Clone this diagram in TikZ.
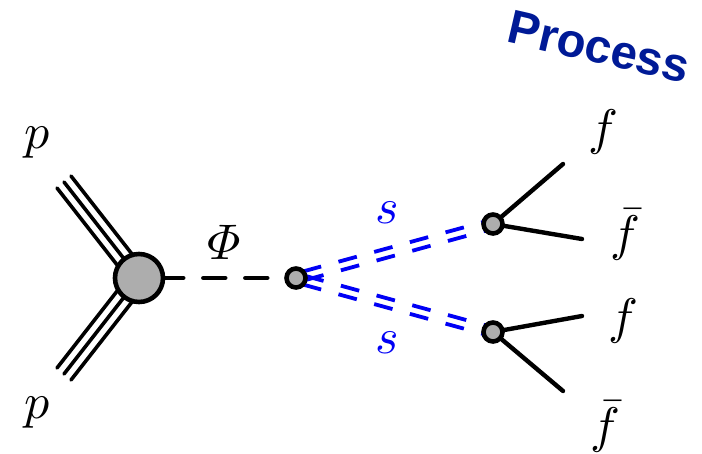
\documentclass[tikz,border=0pt]{standalone}
\usepackage{xcolor}
\usepackage{amsmath}
\usepackage{fontspec}
\usetikzlibrary{backgrounds}
\newfontfamily\titlefont{Liberation Sans}
\definecolor{Navy}{HTML}{001A96}
\definecolor{Scalar}{HTML}{0000F5}
\definecolor{Blob}{HTML}{ADADAD}
\begin{document}
\begin{tikzpicture}[x=1pt,y=-1pt,
        v/.style={circle,draw=black,fill=Blob,line width=4.6pt,inner sep=0pt,minimum size=19pt},
        blob/.style={v,minimum size=48pt},
        t/.style={font=\normalsize,scale=5,inner sep=0pt},
        l/.style={line width=4.4pt,line cap=round},
        beam/.style={line width=3.6pt,line cap=round},
        phi/.style={l,dash pattern=on 22pt off 20pt,dash phase=4pt},
        sc/.style={draw=Scalar,line width=3.8pt,dash pattern=on 19pt off 18pt,dash phase=28.7pt}]
        \useasboundingbox (0,0) rectangle (702,453);
        \node[blob] (h) at (139,278) {};
        \node[v] (d) at (296,278) {};
        \node[v] (u1) at (493,224) {};
        \node[v] (u2) at (493,332) {};
        \coordinate (p1) at (64,182);
        \coordinate (p2) at (64,374);
        \coordinate (f1) at (563,164);
        \coordinate (f2) at (582,239);
        \coordinate (f3) at (582,316);
        \coordinate (f4) at (563,391);
        \node[t] (lp1) at (37,143) {$p$};
        \node[t] (lp2) at (37,413) {$p$};
        \node[t] (lphi) at (224,242) {$\varPhi$};
        \node[t,text=Scalar] (ls1) at (387,213) {$s$};
        \node[t,text=Scalar] (ls2) at (387,343) {$s$};
        \node[t] (lf1) at (603,132) {$f$};
        \node[t] (lf2) at (625,235) {$\bar{f}$};
        \node[t] (lf3) at (623,321) {$f$};
        \node[t] (lf4) at (605,427) {$\bar{f}$};
        \node[font=\fontsize{47.5}{56}\titlefont\bfseries,text=Navy,rotate=-13,inner sep=0pt] (title) at (599,47) {Process};
        \begin{scope}[on background layer]
        \foreach \dx/\dy in {-7/6,0/0,7/-6} {
          \draw[beam] ([shift={(\dx,\dy)}]p1) -- ([shift={(\dx,\dy)}]h.center);
          \draw[beam] ([shift={(\dx,-\dy)}]p2) -- ([shift={(\dx,-\dy)}]h.center);
        }
        \foreach \s in {1,-1} {
          \draw[sc] ([shift={(1.2*\s,4.3*\s)}]d.center) -- ([shift={(1.2*\s,4.3*\s)}]u1.center);
          \draw[sc] ([shift={(-1.2*\s,4.3*\s)}]d.center) -- ([shift={(-1.2*\s,4.3*\s)}]u2.center);
        }
        \draw[l] (u1.center) -- (f1);
        \draw[l] (u1.center) -- (f2);
        \draw[l] (u2.center) -- (f3);
        \draw[l] (u2.center) -- (f4);
        \end{scope}
        \draw[phi] (h) -- (d);
      \end{tikzpicture}
\end{document}
